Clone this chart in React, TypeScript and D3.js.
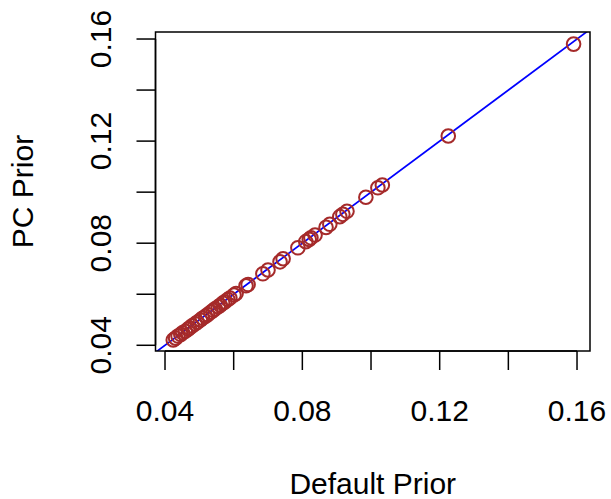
import React, { useEffect, useRef } from 'react';
import * as d3 from 'd3';

// values
const defaultPrior = [
  0.0424, 0.0431, 0.0438, 0.0446, 0.0451, 0.0459, 0.0467, 0.0471, 0.0479, 0.0488,
  0.0494, 0.0503, 0.0509, 0.0518, 0.0524, 0.0534, 0.0541, 0.0546, 0.0555, 0.0561,
  0.0568, 0.0574, 0.0583, 0.0589, 0.0601, 0.0607, 0.0636, 0.0642, 0.0685, 0.0700,
  0.0735, 0.0744, 0.0787, 0.0810, 0.0820, 0.0825, 0.0837, 0.0869, 0.0880, 0.0909,
  0.0918, 0.0930, 0.0985, 0.1020, 0.1033, 0.1225, 0.1590,
];
const pcPrior = [
  0.0421, 0.0428, 0.0436, 0.0442, 0.0449, 0.0455, 0.0463, 0.0468, 0.0476, 0.0484,
  0.0490, 0.0499, 0.0506, 0.0514, 0.0520, 0.0530, 0.0537, 0.0543, 0.0551, 0.0557,
  0.0565, 0.0570, 0.0579, 0.0585, 0.0597, 0.0603, 0.0633, 0.0638, 0.0680, 0.0695,
  0.0727, 0.0739, 0.0782, 0.0806, 0.0815, 0.0821, 0.0832, 0.0862, 0.0874, 0.0904,
  0.0913, 0.0925, 0.0980, 0.1017, 0.1028, 0.1220, 0.1580,
];
const xTicks = [0.04, 0.06, 0.08, 0.1, 0.12, 0.14, 0.16];
const xTickLabels = ['0.04', '', '0.08', '', '0.12', '', '0.16'];
const yTicks = [0.04, 0.06, 0.08, 0.1, 0.12, 0.14, 0.16];
const yTickLabels = ['0.04', '', '0.08', '', '0.12', '', '0.16'];

export default function App() {
  const svgRef = useRef(null);

  useEffect(() => {
    if (!svgRef.current) return;
    const width = 611;
    const height = 499;
    const left = 155.5, right = 590, top = 32, bottom = 351;
    const font = '"Liberation Sans", Arial, Helvetica, sans-serif';
    const fs = '30px';

    d3.select(svgRef.current).selectAll('*').remove();
    const svg = d3.select(svgRef.current)
      .attr('width', width)
      .attr('height', height);

    const x = d3.scaleLinear().domain([0.03723, 0.16378]).range([left, right]);
    const y = d3.scaleLinear().domain([0.03776, 0.16275]).range([bottom, top]);

    svg.append('rect')
      .attr('width', width).attr('height', height).attr('fill', 'white');

    svg.append('defs').append('clipPath').attr('id', 'plotclip')
      .append('rect')
      .attr('x', left).attr('y', top)
      .attr('width', right - left).attr('height', bottom - top);

    // y = x reference line
    svg.append('line')
      .attr('clip-path', 'url(#plotclip)')
      .attr('x1', x(0.03)).attr('y1', y(0.03))
      .attr('x2', x(0.17)).attr('y2', y(0.17))
      .attr('stroke', '#0000ff')
      .attr('stroke-width', 1.7);

    svg.append('g')
      .selectAll('circle')
      .data(defaultPrior.map((d, i) => [d, pcPrior[i]]))
      .enter()
      .append('circle')
      .attr('cx', d => x(d[0]))
      .attr('cy', d => y(d[1]))
      .attr('r', 6.8)
      .attr('fill', 'none')
      .attr('stroke', '#a52a2a')
      .attr('stroke-width', 2);

    svg.append('rect')
      .attr('x', left).attr('y', top)
      .attr('width', right - left).attr('height', bottom - top)
      .attr('fill', 'none')
      .attr('stroke', 'black')
      .attr('stroke-width', 1.5);

    const tick = 19;
    // x axis
    svg.append('line')
      .attr('x1', x(xTicks[0])).attr('x2', x(xTicks[xTicks.length - 1]))
      .attr('y1', bottom).attr('y2', bottom)
      .attr('stroke', 'black').attr('stroke-width', 1.5);
    xTicks.forEach((t, i) => {
      svg.append('line')
        .attr('x1', x(t)).attr('x2', x(t))
        .attr('y1', bottom).attr('y2', bottom + tick)
        .attr('stroke', 'black').attr('stroke-width', 1.5);
      if (xTickLabels[i]) {
        svg.append('text')
          .attr('x', x(t)).attr('y', 421)
          .attr('text-anchor', 'middle')
          .style('font-family', font)
          .style('font-size', fs)
          .text(xTickLabels[i]);
      }
    });

    // y axis
    svg.append('line')
      .attr('x1', left).attr('x2', left)
      .attr('y1', y(yTicks[0])).attr('y2', y(yTicks[yTicks.length - 1]))
      .attr('stroke', 'black').attr('stroke-width', 1.5);
    yTicks.forEach((t, i) => {
      svg.append('line')
        .attr('x1', left - tick).attr('x2', left)
        .attr('y1', y(t)).attr('y2', y(t))
        .attr('stroke', 'black').attr('stroke-width', 1.5);
      if (yTickLabels[i]) {
        svg.append('text')
          .attr('transform', `translate(111,${y(t)}) rotate(-90)`)
          .attr('text-anchor', 'middle')
          .style('font-family', font)
          .style('font-size', fs)
          .text(yTickLabels[i]);
      }
    });

    svg.append('text')
      .attr('x', (left + right) / 2).attr('y', 494)
      .attr('text-anchor', 'middle')
      .style('font-family', font)
      .style('font-size', fs)
      .text('Default Prior');

    svg.append('text')
      .attr('transform', `translate(33,${(top + bottom) / 2}) rotate(-90)`)
      .attr('text-anchor', 'middle')
      .style('font-family', font)
      .style('font-size', fs)
      .text('PC Prior');
  }, []);

  return (
    <svg ref={svgRef} style={{ position: 'absolute', left: 0, top: 0, display: 'block' }}></svg>
  );
}
